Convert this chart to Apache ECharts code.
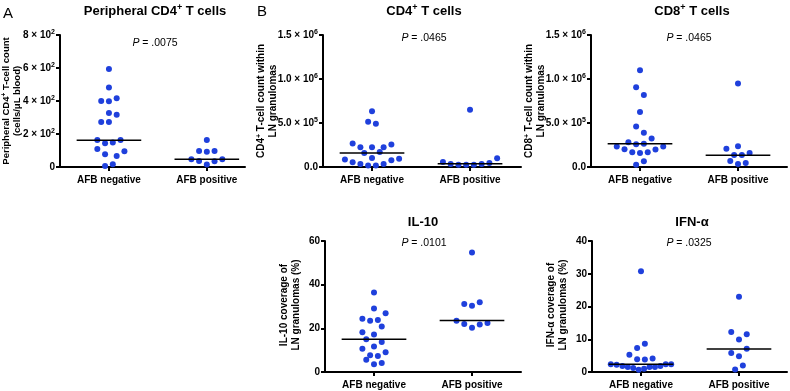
<!DOCTYPE html>
<html>
<head>
<meta charset="utf-8">
<script src="https://cdn.jsdelivr.net/npm/echarts@6/dist/echarts.min.js"></script>
<style>
html, body { margin: 0; padding: 0; background: #fff; }
#chart { width: 790px; height: 391px; }
</style>
</head>
<body>
<div id="chart"></div>
<script>
// groups on every x axis
var groups = ['AFB negative', 'AFB positive'];

// A: peripheral CD4+ T-cell count (cells/uL blood)
var periNeg = [594, 482, 400, 398, 416, 328, 316, 273, 273, 164, 144, 148, 164, 109, 78, 96, 66, 6, 17];
var periNegSlot = [0, 0, -1, 0, 1, 0, 1, -1, 0, -1.5, -0.5, 0.5, 1.5, -1.5, -0.5, 2, 1, -0.5, 0.5];
var periPos = [164, 97, 92, 97, 47, 37, 35, 47, 15];
var periPosSlot = [0, -1, 0, 1, -2, -1, 1, 2, 0];
var periMedian = [162, 47];
var periTicks = [0, 200, 400, 600, 800];

// B: CD4+ T-cell count within LN granulomas
var cd4Neg = [633000, 515000, 492000, 267000, 224000, 224000, 224000, 255000, 160000, 171000, 103000,
    84000, 53000, 34000, 18000, 18000, 34000, 76000, 95000];
var cd4NegSlot = [0, -0.5, 0.5, -2.5, -1.5, 0, 1.5, 2.5, -1, 1, 0, -3.5, -2.5, -1.5, -0.5, 0.5, 1.5, 2.5, 3.5];
var cd4Pos = [650000, 57000, 34000, 26000, 26000, 26000, 34000, 46000, 99000];
var cd4PosSlot = [0, -3.5, -2.5, -1.5, -0.5, 0.5, 1.5, 2.5, 3.5];
var cd4Median = [160000, 38000];

// B: CD8+ T-cell count within LN granulomas
var cd8Neg = [1100000, 907000, 818000, 625000, 461000, 389000, 324000, 282000, 259000, 263000,
    232000, 201000, 167000, 160000, 167000, 198000, 232000, 64000, 26000];
var cd8NegSlot = [0, -0.5, 0.5, 0, -0.5, 0.5, 1.5, -1.5, -0.5, 0.5, -3, -2, -1, 0, 1, 2, 3, 0.5, -0.5];
var cd8Pos = [950000, 206000, 236000, 137000, 137000, 160000, 69000, 34000, 46000];
var cd8PosSlot = [0, -1.5, 0, -0.5, 0.5, 1.5, -1, 0, 1];
var cd8Median = [263000, 133000];
var countTicks = [0, 500000, 1000000, 1500000];

// B: IL-10 coverage of LN granulomas (%)
var il10Neg = [36.4, 29.1, 24.4, 23.5, 23.8, 26.9, 20.8, 18.2, 17.2, 15.0, 13.7, 10.6, 11.7, 9.0, 7.7, 7.3, 5.6, 3.5, 4.1];
var il10NegSlot = [0, 0, -1.5, -0.5, 0.5, 1.5, 1, -1.5, 0, -1, 1, -1.5, 0, 1.5, -0.5, 0.5, -1, 0, 1];
var il10Pos = [54.7, 31.2, 30.4, 32, 23.5, 22, 20.3, 21.7, 22.4];
var il10PosSlot = [0, -1, 0, 1, -2, -1, 0, 1, 2];
var il10Median = [15.0, 23.6];
var il10Ticks = [0, 20, 40, 60];

// B: IFN-alpha coverage of LN granulomas (%)
var ifnNeg = [30.8, 8.6, 7.3, 5.3, 3.9, 3.8, 4.1, 2.4, 2.2, 1.8, 1.5, 1.2, 0.7, 1.0, 1.5, 1.5, 1.8, 2.4, 2.4];
var ifnNegSlot = [0, 0.5, -0.5, -1.5, -0.5, 0.5, 1.5, -3.9, -3.15, -2.4, -1.7, -1.0, -0.3, 0.4, 1.1, 1.8, 2.5, 3.2, 3.9];
var ifnPos = [23.0, 12.2, 11.5, 9.9, 7.1, 5.8, 4.8, 2.0, 0.8];
var ifnPosSlot = [0, -1, 1, 0, 1, -1, 0, 0.5, -0.5];
var ifnMedian = [2.4, 7.0];
var ifnTicks = [0, 10, 20, 30, 40];

var FONT = '"Liberation Sans", Arial, sans-serif';
var DOT = '#1f40dc';
var STEP = 0.079;      // one swarm slot, in group widths
var HALF = 0.33;       // half length of the median bar

var supRich = {
    s: { fontSize: 7, fontWeight: 'bold', fontFamily: FONT, color: '#000', verticalAlign: 'top', lineHeight: 13 },
    b: { fontSize: 10, fontWeight: 'bold', fontFamily: FONT, color: '#000', lineHeight: 13 }
};

// "8 × 10²" style labels
function sciLabel(v, digits, zero) {
    if (v === 0) return '{b|' + zero + '}';
    var e = Math.floor(Math.log10(v) + 1e-9);
    var m = v / Math.pow(10, e);
    return '{b|' + m.toFixed(digits) + ' × 10}{s|' + e + '}';
}

var panels = [
    { grid: { left: 60, top: 35, width: 185, height: 132 }, xMax: 1.89, ticks: periTicks,
      label: function (v) { return sciLabel(v, 0, '0'); },
      neg: periNeg, negSlot: periNegSlot, pos: periPos, posSlot: periPosSlot, median: periMedian },
    { grid: { left: 323, top: 35, width: 198, height: 132 }, xMax: 2.02, ticks: countTicks,
      label: function (v) { return sciLabel(v, 1, '0.0'); },
      neg: cd4Neg, negSlot: cd4NegSlot, pos: cd4Pos, posSlot: cd4PosSlot, median: cd4Median },
    { grid: { left: 591, top: 35, width: 196, height: 132 }, xMax: 2.0, ticks: countTicks,
      label: function (v) { return sciLabel(v, 1, '0.0'); },
      neg: cd8Neg, negSlot: cd8NegSlot, pos: cd8Pos, posSlot: cd8PosSlot, median: cd8Median },
    { grid: { left: 325, top: 241, width: 196, height: 131 }, xMax: 2.0, ticks: il10Ticks,
      label: function (v) { return '{b|' + v + '}'; },
      neg: il10Neg, negSlot: il10NegSlot, pos: il10Pos, posSlot: il10PosSlot, median: il10Median },
    { grid: { left: 592, top: 241, width: 195, height: 131 }, xMax: 1.99, ticks: ifnTicks,
      label: function (v) { return '{b|' + v + '}'; },
      neg: ifnNeg, negSlot: ifnNegSlot, pos: ifnPos, posSlot: ifnPosSlot, median: ifnMedian }
];

var option = {
    animation: false,
    backgroundColor: '#fff',
    grid: [], xAxis: [], yAxis: [], series: [],
    graphic: []
};

var axisLine = { show: true, lineStyle: { color: '#000', width: 2 } };
var axisTick = { show: true, length: 4, lineStyle: { color: '#000', width: 2 } };

panels.forEach(function (p, i) {
    var t = p.ticks;
    option.grid.push(p.grid);
    option.xAxis.push({
        type: 'value', gridIndex: i, min: 0, max: p.xMax,
        axisLine: axisLine, splitLine: { show: false },
        axisTick: { show: true, length: 4, lineStyle: { color: '#000', width: 2 }, customValues: [0.5, 1.5] },
        axisLabel: {
            customValues: [0.5, 1.5], margin: 8,
            fontFamily: FONT, fontWeight: 'bold', fontSize: 10, color: '#000',
            formatter: function (v) { return v < 1 ? groups[0] : groups[1]; }
        }
    });
    option.yAxis.push({
        type: 'value', gridIndex: i, min: t[0], max: t[t.length - 1], interval: t[1] - t[0],
        axisLine: axisLine, axisTick: axisTick, splitLine: { show: false },
        axisLabel: { margin: 5, formatter: p.label, rich: supRich }
    });
    [[p.neg, p.negSlot, 0.5], [p.pos, p.posSlot, 1.5]].forEach(function (g) {
        option.series.push({
            type: 'scatter', xAxisIndex: i, yAxisIndex: i,
            symbolSize: 6, itemStyle: { color: DOT, opacity: 1 },
            data: g[0].map(function (v, k) { return [g[2] + g[1][k] * STEP, v]; })
        });
    });
    p.median.forEach(function (m, k) {
        var c = 0.5 + k;
        option.series.push({
            type: 'line', xAxisIndex: i, yAxisIndex: i, z: 3,
            symbol: 'none', lineStyle: { color: '#000', width: 1.5 },
            data: [[c - HALF, m], [c + HALF, m]]
        });
    });
});

var titleRich = {
    t: { fontSize: 13, fontWeight: 'bold', fontFamily: FONT, color: '#000', lineHeight: 16 },
    s: { fontSize: 9, fontWeight: 'bold', fontFamily: FONT, color: '#000', verticalAlign: 'top', lineHeight: 16 }
};
var nameRich = {
    t: { fontSize: 10, fontWeight: 'bold', fontFamily: FONT, color: '#000', lineHeight: 11.5 },
    s: { fontSize: 7, fontWeight: 'bold', fontFamily: FONT, color: '#000', verticalAlign: 'top', lineHeight: 11.5 }
};
var smallNameRich = {
    t: { fontSize: 9.5, fontWeight: 'bold', fontFamily: FONT, color: '#000', lineHeight: 11 },
    s: { fontSize: 6.5, fontWeight: 'bold', fontFamily: FONT, color: '#000', verticalAlign: 'top', lineHeight: 11 }
};
var pRich = {
    i: { fontSize: 10.5, fontStyle: 'italic', fontFamily: FONT, color: '#222' },
    t: { fontSize: 10.5, fontFamily: FONT, color: '#222' }
};

function addText(x, y, text, rich, rot) {
    option.graphic.push({
        type: 'text', x: x, y: y, rotation: rot || 0,
        style: { text: text, rich: rich, align: 'center', verticalAlign: 'middle' }
    });
}

// panel letters
option.graphic.push({ type: 'text', x: 3, y: 6, style: { text: 'A', font: '15px ' + FONT, fill: '#000' } });
option.graphic.push({ type: 'text', x: 257, y: 4, style: { text: 'B', font: '15px ' + FONT, fill: '#000' } });

// titles
addText(155, 11, '{t|Peripheral CD4}{s|+}{t| T cells}', titleRich);
addText(424, 11, '{t|CD4}{s|+}{t| T cells}', titleRich);
addText(692, 11, '{t|CD8}{s|+}{t| T cells}', titleRich);
addText(423, 222, '{t|IL-10}', titleRich);
addText(692, 222, '{t|IFN-α}', titleRich);

// P values
addText(155, 43, '{i|P}{t| = .0075}', pRich);
addText(424, 38, '{i|P}{t| = .0465}', pRich);
addText(689, 38, '{i|P}{t| = .0465}', pRich);
addText(424, 243, '{i|P}{t| = .0101}', pRich);
addText(689, 243, '{i|P}{t| = .0325}', pRich);

// y axis names
var R = Math.PI / 2;
addText(11.5, 101, '{t|Peripheral CD4}{s|+}{t| T-cell count}\n{t|(cells/μL blood)}', smallNameRich, R);
addText(267, 101, '{t|CD4}{s|+}{t| T-cell count within}\n{t|LN granulomas}', nameRich, R);
addText(535, 101, '{t|CD8}{s|+}{t| T-cell count within}\n{t|LN granulomas}', nameRich, R);
addText(290, 305, '{t|IL-10 coverage of}\n{t|LN granulomas (%)}', nameRich, R);
addText(557, 305, '{t|IFN-α coverage of}\n{t|LN granulomas (%)}', nameRich, R);

var chart = echarts.init(document.getElementById('chart'));
chart.setOption(option);
</script>
</body>
</html>
